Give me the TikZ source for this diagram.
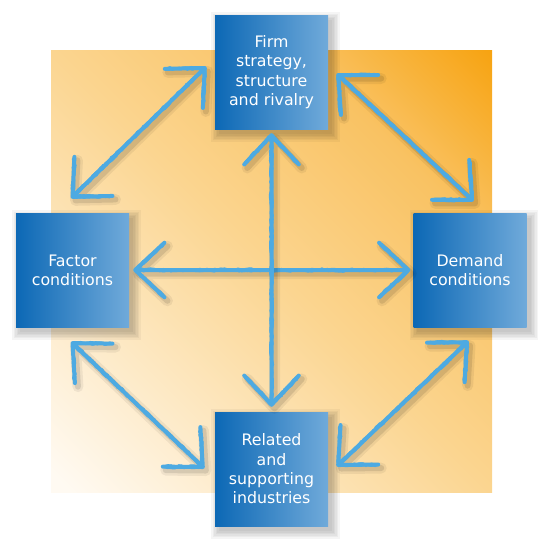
\documentclass[tikz,border=0pt]{standalone}
\usepackage{fontspec}
\setmainfont{DejaVu Sans}
\usepackage{tikz}
\usetikzlibrary{calc,decorations.pathmorphing}
\definecolor{boxdark}{HTML}{0C68B5}
\definecolor{boxlight}{HTML}{70AADA}
\definecolor{arrowblue}{HTML}{4DAAE2}
\definecolor{creamy}{HTML}{FFFAF2}
\definecolor{lightorange}{HTML}{FBD590}
\definecolor{midorange}{HTML}{F9C262}
\definecolor{deeporange}{HTML}{F7A20E}
\pgfdeclarehorizontalshading{backglow}{100bp}{color(0bp)=(creamy); color(16bp)=(creamy); color(50bp)=(lightorange); color(70bp)=(midorange); color(86bp)=(deeporange); color(100bp)=(deeporange)}
\pgfdeclarelayer{back}
\pgfdeclarelayer{shade}
\pgfsetlayers{back,shade,main}

\begin{document}
\begin{tikzpicture}[x=1pt,y=-1pt,
	forcebox/.style={minimum width=113pt, minimum height=114pt, inner sep=0pt,
		left color=boxdark, right color=boxlight, text=white, align=center,
		font=\fontsize{15.8}{19.3}\selectfont},
	ghost/.style={draw=black, line cap=round, line join=round, transform canvas={shift={(3pt,-3.5pt)}}},
	core/.style={draw=arrowblue, line width=4pt, line cap=round, line join=round},
	rough/.style={draw=arrowblue, line width=1.8pt, line cap=round, line join=round,
		decorate, decoration={random steps, segment length=4pt, amplitude=1.7pt}}]
		\useasboundingbox (0,0) rectangle (548,547);
		% shaft and both heads of one sketched arrow
		\def\arrowpath#1#2{($(#1)!40pt!43:(#2)$) -- (#1) -- ($(#1)!40pt!-43:(#2)$) (#1) -- (#2) ($(#2)!40pt!43:(#1)$) -- (#2) -- ($(#2)!40pt!-43:(#1)$)}
		\def\sketcharrow#1#2{%
			\draw[ghost, line width=11pt, opacity=0.06] \arrowpath{#1}{#2};
			\draw[ghost, line width=6pt, opacity=0.1] \arrowpath{#1}{#2};
			\draw[core] \arrowpath{#1}{#2};
			\foreach \pass in {1,...,4} {\draw[rough] \arrowpath{#1}{#2};}}
		% soft shadow under a box
		\def\boxshadow#1{\foreach \g in {0,1.5,...,7.5} {\fill[black, opacity=0.04] ($(#1.north west)+(4-\g,5-\g)$) rectangle ($(#1.south east)+(4+\g,5+\g)$);}}
		\begin{pgfonlayer}{back}
			\shade[shading=backglow, shading angle=45] (51,50) rectangle (492,492);
		\end{pgfonlayer}
		\node[forcebox] (firm) at (271.5,72) {Firm\\strategy,\\structure\\and rivalry};
		\node[forcebox] (factor) at (72.5,270) {Factor\\conditions};
		\node[forcebox] (demand) at (470,270) {Demand\\conditions};
		\node[forcebox] (related) at (271.5,469) {Related\\and\\supporting\\industries};
		\begin{pgfonlayer}{shade}
			\boxshadow{firm}
			\boxshadow{factor}
			\boxshadow{demand}
			\boxshadow{related}
		\end{pgfonlayer}
		\coordinate (tl1) at ([yshift=16pt]factor.north);
		\coordinate (tl2) at ([xshift=-10pt,yshift=4pt]firm.west);
		\coordinate (tr1) at ([xshift=10pt,yshift=-3pt]firm.east);
		\coordinate (tr2) at ([xshift=2pt,yshift=13pt]demand.north);
		\coordinate (br1) at ([xshift=-3pt,yshift=-15pt]demand.south);
		\coordinate (br2) at ([xshift=10pt,yshift=4pt]related.east);
		\coordinate (bl1) at ([yshift=-16pt]factor.south);
		\coordinate (bl2) at ([xshift=-12pt,yshift=2pt]related.west);
		\coordinate (h1) at ([xshift=6pt]factor.east);
		\coordinate (h2) at ([xshift=-5pt]demand.west);
		\coordinate (v1) at ([yshift=-6pt]firm.south);
		\coordinate (v2) at ([yshift=7pt]related.north);
		\sketcharrow{tl1}{tl2}
		\sketcharrow{tr1}{tr2}
		\sketcharrow{br1}{br2}
		\sketcharrow{bl1}{bl2}
		\sketcharrow{h1}{h2}
		\sketcharrow{v1}{v2}
	\end{tikzpicture}
\end{document}
